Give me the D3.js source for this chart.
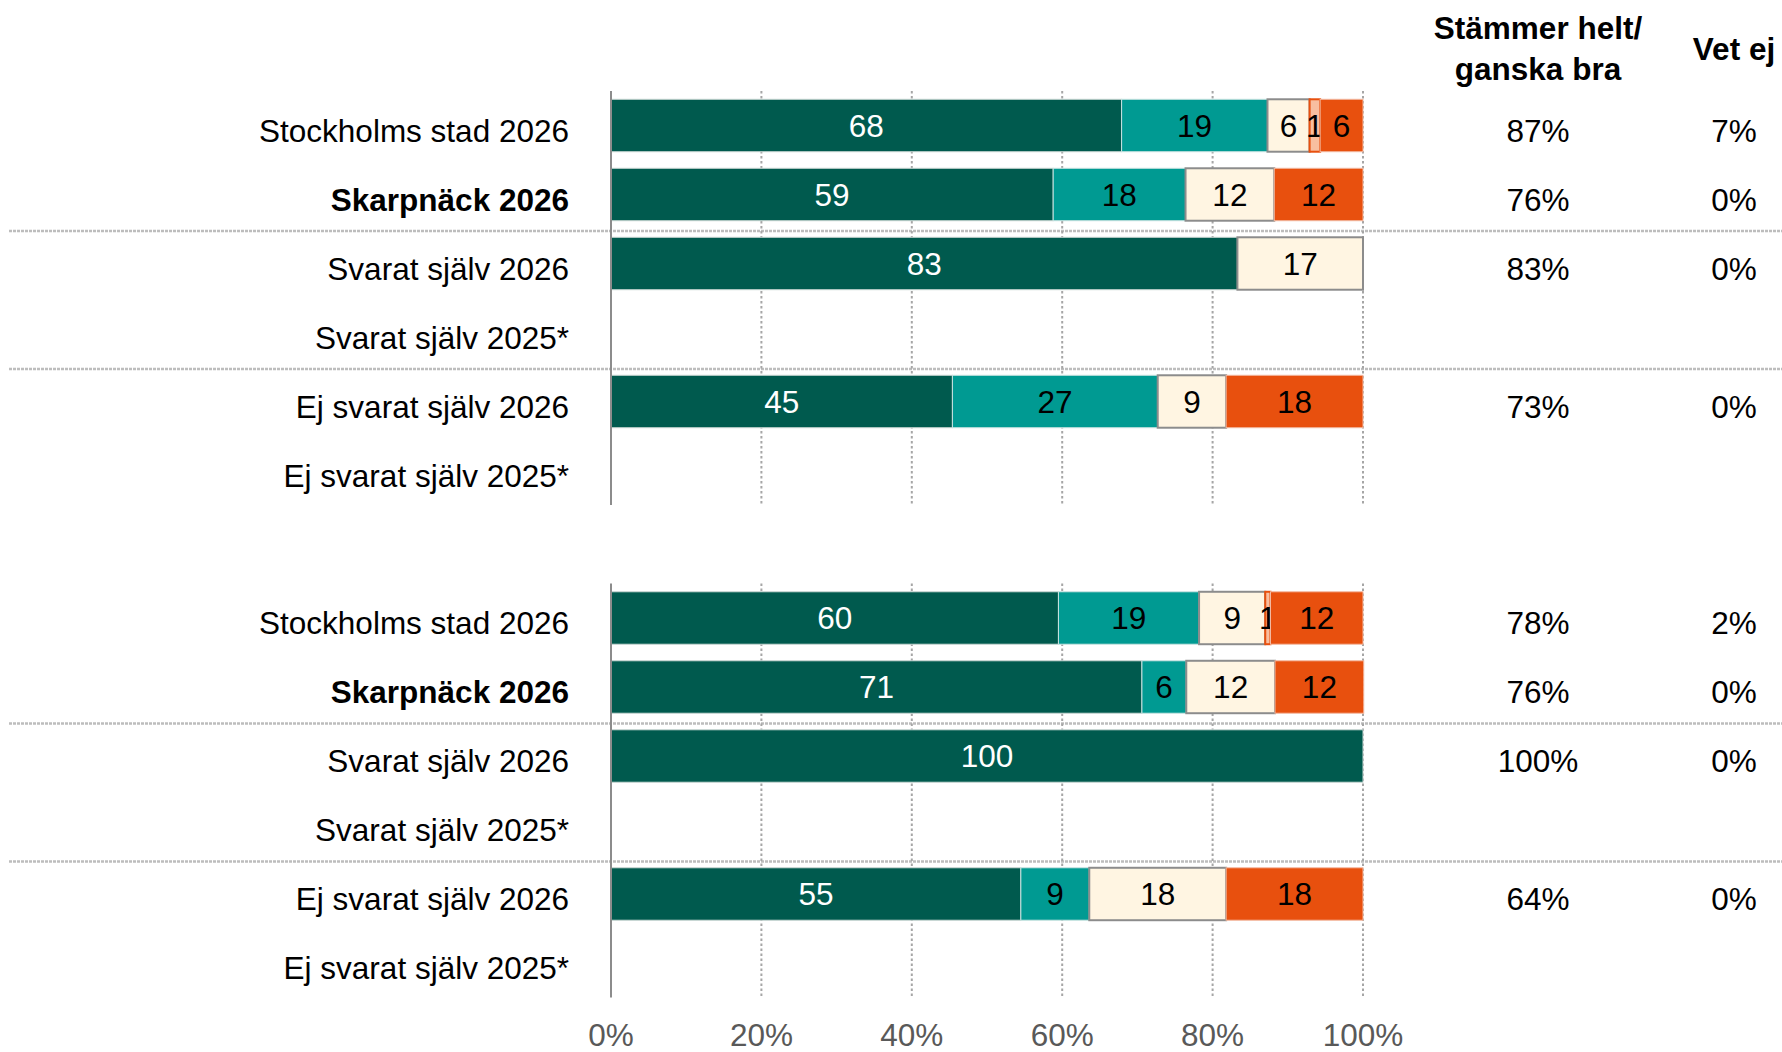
<!DOCTYPE html>
<html>
<head>
<meta charset="utf-8">
<script src="https://cdn.jsdelivr.net/npm/d3@7"></script>
<style>
  html, body { margin: 0; padding: 0; background: #ffffff; }
  svg { display: block; font-family: "Liberation Sans", Arial, sans-serif; }
</style>
</head>
<body>
<svg id="chart" width="1782" height="1052"></svg>
<script>
// ---------- data ----------
const categories = ["Stockholms stad 2026", "Skarpnäck 2026", "Svarat själv 2026", "Svarat själv 2025*", "Ej svarat själv 2026", "Ej svarat själv 2025*"];
const boldCategories = ["Skarpnäck 2026"];
const seriesKeys = ["helt", "ganskaBra", "ganskaDaligt", "inteAlls", "inteAllsStark"];

// Group 1
const g1Helt        = [67.9, 58.8, 83.3, null, 45.4, null];
const g1GanskaBra   = [19.4, 17.6, 0,    null, 27.3, null];
const g1Cream       = [5.6,  11.8, 16.7, null, 9.1,  null];
const g1Salmon      = [1.4,  0,    0,    null, 0,    null];
const g1Orange      = [5.7,  11.8, 0,    null, 18.2, null];
const g1Stammer     = [87, 76, 83, null, 73, null];
const g1VetEj       = [7, 0, 0, null, 0, null];

// Group 2
const g2Helt        = [59.5, 70.6, 100, null, 54.5, null];
const g2GanskaBra   = [18.7, 5.9,  0,   null, 9.1,  null];
const g2Cream       = [8.8,  11.8, 0,   null, 18.2, null];
const g2Salmon      = [0.7,  0,    0,   null, 0,    null];
const g2Orange      = [12.3, 11.8, 0,   null, 18.2, null];
const g2Stammer     = [78, 76, 100, null, 64, null];
const g2VetEj       = [2, 0, 0, null, 0, null];

const tickValues = [0, 20, 40, 60, 80, 100];
const headerStammer = ["Stämmer helt/", "ganska bra"];
const headerVetEj = "Vet ej";

// ---------- styles ----------
const fills   = { helt: "#005a4e", ganskaBra: "#009a92", ganskaDaligt: "#fff5e2", inteAlls: "#f8bea0", inteAllsStark: "#e8500e" };
const strokes = { helt: "#c9d6d3", ganskaBra: "#c9e3e1", ganskaDaligt: "#8c8c8c", inteAlls: "#e8500e", inteAllsStark: "#f3b9a0" };
const strokeW = { helt: 1, ganskaBra: 1, ganskaDaligt: 2, inteAlls: 2, inteAllsStark: 1 };
const textCol = { helt: "#ffffff", ganskaBra: "#000000", ganskaDaligt: "#000000", inteAlls: "#000000", inteAllsStark: "#000000" };

const FS = 31.5;
const svg = d3.select("#chart");

const x = d3.scaleLinear().domain([0, 100]).range([611, 1363]);
const colStammerX = 1538;
const colVetEjX = 1734;

function buildRows(h, gb, c, s, o, st, ve) {
  return categories.map((cat, i) => ({
    cat, helt: h[i], ganskaBra: gb[i], ganskaDaligt: c[i], inteAlls: s[i], inteAllsStark: o[i],
    stammer: st[i], vetEj: ve[i]
  }));
}

const groups = [
  { top: 91,    rows: buildRows(g1Helt, g1GanskaBra, g1Cream, g1Salmon, g1Orange, g1Stammer, g1VetEj) },
  { top: 583.5, rows: buildRows(g2Helt, g2GanskaBra, g2Cream, g2Salmon, g2Orange, g2Stammer, g2VetEj) }
];
const plotH = 414;

const stack = d3.stack().keys(seriesKeys).value((d, k) => d[k] || 0);

groups.forEach(grp => {
  const y = d3.scaleBand().domain(categories).range([grp.top, grp.top + plotH])
    .paddingInner(0.24).paddingOuter(0.12);
  const g = svg.append("g");

  // separators
  [2, 4].forEach(idx => {
    const yy = grp.top + y.step() * idx + 2;
    g.append("line").attr("x1", 9).attr("x2", 1782).attr("y1", yy).attr("y2", yy)
      .attr("stroke", "#bdbdbd").attr("stroke-width", 2.5).attr("stroke-dasharray", "3,1");
  });

  // gridlines
  g.selectAll(".grid").data(tickValues.filter(t => t > 0)).join("line")
    .attr("x1", d => x(d)).attr("x2", d => x(d))
    .attr("y1", grp.top).attr("y2", grp.top + plotH)
    .attr("stroke", "#a6a6a6").attr("stroke-width", 2).attr("stroke-dasharray", "2.5,2.5");

  // bars
  const rowsWithData = grp.rows.filter(r => r.helt !== null);
  const series = stack(rowsWithData);
  series.forEach(ser => {
    const key = ser.key;
    const sg = g.append("g");
    sg.selectAll("rect").data(ser.filter(d => (d[1] - d[0]) > 0)).join("rect")
      .attr("x", d => x(d[0])).attr("width", d => x(d[1]) - x(d[0]))
      .attr("y", d => y(d.data.cat)).attr("height", y.bandwidth())
      .attr("fill", fills[key]).attr("stroke", strokes[key]).attr("stroke-width", strokeW[key]);
    sg.selectAll("text").data(ser.filter(d => (d[1] - d[0]) > 0)).join("text")
      .attr("x", d => (x(d[0]) + x(d[1])) / 2)
      .attr("y", d => y(d.data.cat) + y.bandwidth() / 2 + 11)
      .attr("text-anchor", "middle").attr("font-size", FS).attr("fill", textCol[key])
      .text(d => Math.round(d[1] - d[0]));
  });

  // zero axis line
  g.append("line").attr("x1", x(0)).attr("x2", x(0)).attr("y1", grp.top).attr("y2", grp.top + plotH)
    .attr("stroke", "#8c8c8c").attr("stroke-width", 2);

  // category labels
  g.selectAll(".cat").data(grp.rows).join("text")
    .attr("x", 569).attr("y", d => y(d.cat) + y.bandwidth() / 2 + 16)
    .attr("text-anchor", "end").attr("font-size", FS).attr("fill", "#000")
    .attr("font-weight", d => boldCategories.includes(d.cat) ? "bold" : "normal")
    .text(d => d.cat);

  // percent columns
  g.selectAll(".st").data(grp.rows.filter(r => r.stammer !== null)).join("text")
    .attr("x", colStammerX).attr("y", d => y(d.cat) + y.bandwidth() / 2 + 16)
    .attr("text-anchor", "middle").attr("font-size", FS).attr("fill", "#000")
    .text(d => d.stammer + "%");
  g.selectAll(".ve").data(grp.rows.filter(r => r.vetEj !== null)).join("text")
    .attr("x", colVetEjX).attr("y", d => y(d.cat) + y.bandwidth() / 2 + 16)
    .attr("text-anchor", "middle").attr("font-size", FS).attr("fill", "#000")
    .text(d => d.vetEj + "%");
});

// x axis tick labels (bottom)
svg.append("g").selectAll("text").data(tickValues).join("text")
  .attr("x", d => x(d)).attr("y", 1046)
  .attr("text-anchor", "middle").attr("font-size", FS).attr("fill", "#595959")
  .text(d => d + "%");

// headers
svg.append("text").attr("x", colStammerX).attr("y", 39).attr("text-anchor", "middle")
  .attr("font-size", FS).attr("font-weight", "bold").text(headerStammer[0]);
svg.append("text").attr("x", colStammerX).attr("y", 80).attr("text-anchor", "middle")
  .attr("font-size", FS).attr("font-weight", "bold").text(headerStammer[1]);
svg.append("text").attr("x", colVetEjX).attr("y", 60).attr("text-anchor", "middle")
  .attr("font-size", FS).attr("font-weight", "bold").text(headerVetEj);
</script>
</body>
</html>
